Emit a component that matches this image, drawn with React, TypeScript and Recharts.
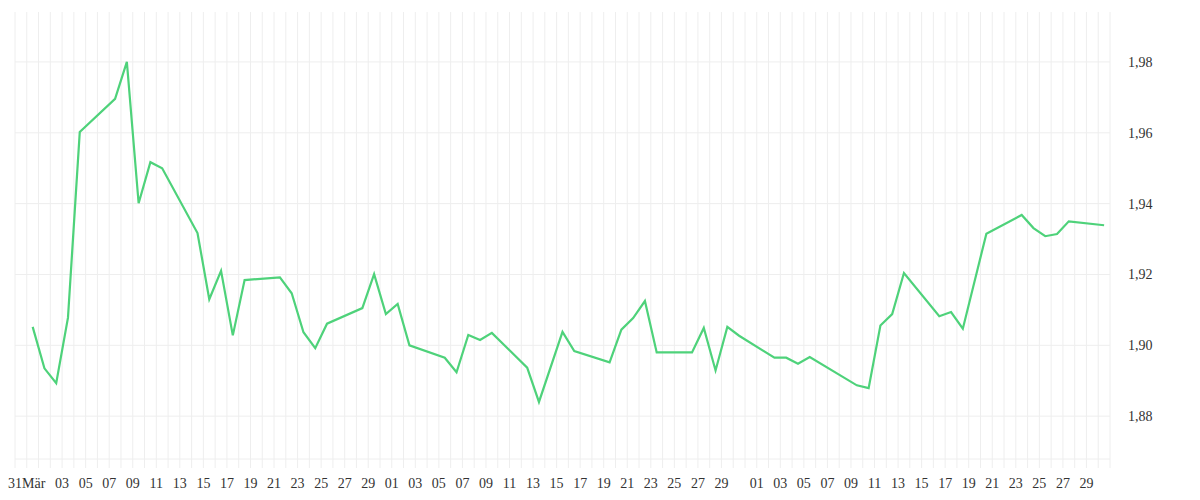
import { LineChart, Line, XAxis, YAxis, CartesianGrid } from 'recharts'

// daily quotes (one point per trading day, stamped at noon)
const dates = [
  '2025-03-31', '2025-04-01', '2025-04-02', '2025-04-03', '2025-04-04',
  '2025-04-07', '2025-04-08', '2025-04-09', '2025-04-10', '2025-04-11',
  '2025-04-14', '2025-04-15', '2025-04-16', '2025-04-17', '2025-04-18',
  '2025-04-21', '2025-04-22', '2025-04-23', '2025-04-24', '2025-04-25',
  '2025-04-28', '2025-04-29', '2025-04-30', '2025-05-01', '2025-05-02',
  '2025-05-05', '2025-05-06', '2025-05-07', '2025-05-08', '2025-05-09',
  '2025-05-12', '2025-05-13', '2025-05-15', '2025-05-16',
  '2025-05-19', '2025-05-20', '2025-05-21', '2025-05-22', '2025-05-23',
  '2025-05-26', '2025-05-27', '2025-05-28', '2025-05-29', '2025-05-30',
  '2025-06-02', '2025-06-03', '2025-06-04', '2025-06-05',
  '2025-06-09', '2025-06-10', '2025-06-11', '2025-06-12', '2025-06-13',
  '2025-06-16', '2025-06-17', '2025-06-18', '2025-06-20',
  '2025-06-23', '2025-06-24', '2025-06-25', '2025-06-26', '2025-06-27',
  '2025-06-30',
]

const values = [
  1.9052, 1.8935, 1.8893, 1.9078, 1.9602,
  1.9696, 1.9800, 1.9401, 1.9517, 1.9500,
  1.9317, 1.9130, 1.9210, 1.9028, 1.9184,
  1.9192, 1.9147, 1.9037, 1.8992, 1.9061,
  1.9105, 1.9201, 1.9088, 1.9117, 1.9000,
  1.8965, 1.8924, 1.9029, 1.9015, 1.9035,
  1.8937, 1.8840, 1.9038, 1.8984,
  1.8952, 1.9044, 1.9077, 1.9125, 1.8980,
  1.8980, 1.9049, 1.8929, 1.9052, 1.9027,
  1.8965, 1.8965, 1.8948, 1.8967,
  1.8887, 1.8879, 1.9056, 1.9088, 1.9204,
  1.9082, 1.9094, 1.9047, 1.9315,
  1.9368, 1.9331, 1.9308, 1.9314, 1.9350,
  1.9339,
]

// x range and tick labels
const rangeStart = '2025-03-30'
const rangeEnd = '2025-07-01'
const labelDates = [
  '2025-03-31', '2025-04-03', '2025-04-05', '2025-04-07', '2025-04-09', '2025-04-11',
  '2025-04-13', '2025-04-15', '2025-04-17', '2025-04-19', '2025-04-21', '2025-04-23',
  '2025-04-25', '2025-04-27', '2025-04-29', '2025-05-01', '2025-05-03', '2025-05-05',
  '2025-05-07', '2025-05-09', '2025-05-11', '2025-05-13', '2025-05-15', '2025-05-17',
  '2025-05-19', '2025-05-21', '2025-05-23', '2025-05-25', '2025-05-27', '2025-05-29',
  '2025-06-01', '2025-06-03', '2025-06-05', '2025-06-07', '2025-06-09', '2025-06-11',
  '2025-06-13', '2025-06-15', '2025-06-17', '2025-06-19', '2025-06-21', '2025-06-23',
  '2025-06-25', '2025-06-27', '2025-06-29',
]
const firstLabel = '31Mär'

const yTicks = [1.88, 1.90, 1.92, 1.94, 1.96, 1.98]
const yDomain = [1.8679, 1.9941]

const DAY = 86400000
const toMs = (d: string, hour = 0) => Date.parse(`${d}T${String(hour).padStart(2, '0')}:00:00Z`)

const chartData = dates.map((d, i) => ({ t: toMs(d, 12), v: values[i] }))

const xStart = toMs(rangeStart)
const xEnd = toMs(rangeEnd)
const dayTicks: number[] = []
for (let t = xStart; t <= xEnd; t += DAY) dayTicks.push(t)

const labelSet = new Set(labelDates.map(d => toMs(d)))
const fmtX = (t: number) => {
  if (!labelSet.has(t)) return ''
  if (t === toMs(labelDates[0])) return firstLabel
  return String(new Date(t).getUTCDate()).padStart(2, '0')
}

// horizontal grid only at the value ticks (no extra line on the top edge)
const hLines = ({ offset }: any) => {
  const [lo, hi] = yDomain
  return yTicks.map(v => offset.top + ((hi - v) / (hi - lo)) * offset.height)
}

const GRID = '#eeeeee'
const tickStyle = { fill: '#333', fontSize: 14, fontFamily: "'Liberation Serif', serif" }

export default function App() {
  return (
    <LineChart width={1184} height={484} data={chartData}
      margin={{ top: 4, right: 0, left: 7, bottom: 0 }}>
      <CartesianGrid stroke={GRID} strokeWidth={1} horizontalCoordinatesGenerator={hLines} />
      <XAxis dataKey="t" type="number" scale="time" domain={[xStart, xEnd]}
        ticks={dayTicks} interval={0} tickFormatter={fmtX} height={33}
        axisLine={{ stroke: GRID }} tickLine={{ stroke: GRID }} tickSize={9} tickMargin={10}
        tick={tickStyle} />
      <YAxis type="number" orientation="right" domain={yDomain} ticks={yTicks}
        width={82} axisLine={false} tickLine={false} tickMargin={12}
        tickFormatter={(v: number) => v.toFixed(2).replace('.', ',')}
        tick={tickStyle} />
      <Line type="linear" dataKey="v" stroke="#4ed27a" strokeWidth={2.2}
        dot={false} activeDot={false} isAnimationActive={false} />
    </LineChart>
  )
}
